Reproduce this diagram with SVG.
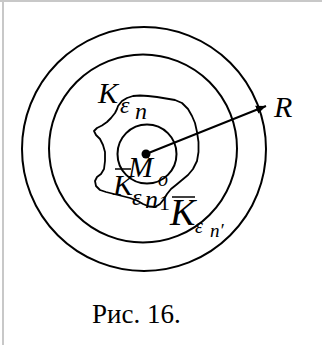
<svg xmlns="http://www.w3.org/2000/svg" width="322" height="345" viewBox="0 0 322 345">
<defs>
<marker id="ah" viewBox="0 0 10 10" refX="10" refY="5" markerWidth="10" markerHeight="10" markerUnits="userSpaceOnUse" orient="auto">
<path d="M0,0.8 L10,5 L0,9.2 Z" fill="#000"/>
</marker>
<style>
.ln{fill:none;stroke:#000;stroke-width:2}
.bl{fill:none;stroke:#000;stroke-width:1.8;stroke-linejoin:round}
.it{font-style:italic;fill:#000}
.rm{fill:#000}
.bar{stroke:#000;stroke-width:1.5}
</style>
</defs>
<rect width="322" height="345" fill="#fff"/>
<line x1="3" y1="0" x2="3" y2="345" stroke="#c8c8c8" stroke-width="2"/>
<line x1="0" y1="1" x2="322" y2="1" stroke="#c8c8c8" stroke-width="2"/>
<g id="outer"><circle class="ln" cx="144" cy="149" r="122"/></g>
<g id="middle"><circle class="ln" cx="143" cy="148.5" r="94"/></g>
<g id="blob"><path class="bl" d="M118,106 L122,101 L127,98 L133,96 L140,95.5 L148,96 L157,97 L166,98.5 L175,100 L182,103 L188,109 L192,116 L195,123 L197,132 L198.5,142 L198.5,152 L197,161 L193,169 L188,175 L182,180 L176,185 L171,189 L167,194 L164,199 L160,204 L155,207 L149,206.5 L143,204 L137,200.5 L130,198 L122,196 L114,194 L106,192 L100,190 L96,186 L95,181 L97,177 L101,174 L104,169 L105,161 L105,152 L103,145 L100,139 L96,135 L94,131 L97,128 L102,125.5 L107,122 L111,118 L115,113 L117,109 Z"/></g>
<g id="inner"><circle class="ln" cx="147" cy="154" r="29.5"/></g>
<g id="center"><circle cx="146" cy="154" r="4.5" fill="#000"/></g>
<g id="connectors"><line x1="146" y1="154" x2="266" y2="106" stroke="#000" stroke-width="2" marker-end="url(#ah)"/></g>
<g font-family="'Liberation Serif', 'Times New Roman', serif">
<g id="label-R"><text class="it" x="274" y="116.5" font-size="30">R</text></g>
<g id="label-K1"><text class="it" x="98" y="103" font-size="30">K</text><text class="it" x="120" y="113" font-size="24">ε</text><text class="it" x="135" y="119" font-size="24">n</text></g>
<g id="label-M"><text class="it" x="128" y="177" font-size="30">M</text><text class="it" x="158" y="186" font-size="20">o</text></g>
<g id="label-K2"><line class="bar" x1="115" y1="169" x2="131" y2="169"/><text class="it" x="113" y="195" font-size="30">K</text><text class="it" x="132" y="205" font-size="24">ε</text><text class="it" x="145" y="208" font-size="26">n</text><text class="rm" x="159" y="210" font-size="22">1</text></g>
<g id="label-K3"><line class="bar" x1="172" y1="197" x2="195" y2="197"/><text class="it" x="170" y="225" font-size="38">K</text><text class="it" x="195" y="233" font-size="20">ε</text><text class="it" x="210" y="237" font-size="19">n′</text></g>
<g id="caption"><text class="rm" x="92" y="323" font-size="27">Рис. 16.</text></g>
</g>
</svg>
